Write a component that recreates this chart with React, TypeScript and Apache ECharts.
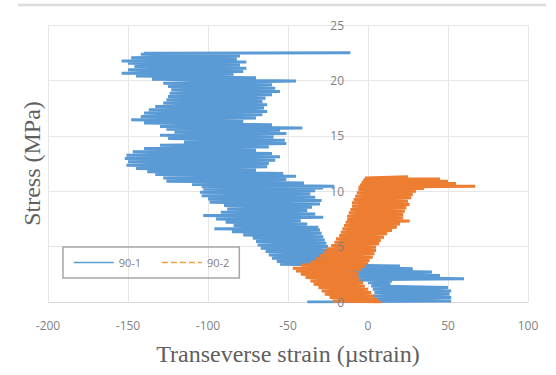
import React, { useEffect, useRef } from "react";
import * as echarts from "echarts";

const xTicks = [-200, -150, -100, -50, 0, 50, 100];
const yTicks = [0, 5, 10, 15, 20, 25];
const seriesNames = ["90-1", "90-2"];

// [transverse strain (µstrain), stress (MPa)]
const series901: [number, number][] = [
  [-38, 0.0], [-20, 0.02], [0, 0.05], [52, 0.1], [2, 0.25], [52, 0.4], [3, 0.55], [51, 0.7],
  [4, 0.85], [52, 1.0], [3, 1.15], [50, 1.3], [2, 1.45], [14, 1.6], [0, 1.75], [15, 1.9],
  [-8, 2.0], [60, 2.1], [-10, 2.25], [45, 2.4], [-12, 2.55], [40, 2.7], [-14, 2.85], [28, 3.0],
  [-15, 3.15], [20, 3.25], [-55, 3.4], [-16, 3.5], [-57, 3.65], [-18, 3.8], [-60, 3.95], [-20, 4.1],
  [-62, 4.25], [-22, 4.4], [-64, 4.55], [-24, 4.7], [-67, 4.85], [-25, 5.0], [-69, 5.15], [-26, 5.3],
  [-70, 5.45], [-27, 5.6], [-72, 5.75], [-28, 5.9], [-78, 6.05], [-29, 6.2], [-85, 6.35], [-30, 6.5],
  [-96, 6.6], [-31, 6.75], [-84, 6.9], [-38, 7.05], [-89, 7.2], [-42, 7.35], [-95, 7.5], [-28, 7.65],
  [-103, 7.8], [-33, 7.95], [-92, 8.1], [-38, 8.25], [-88, 8.4], [-35, 8.55], [-90, 8.7], [-30, 8.85],
  [-99, 9.0], [-29, 9.15], [-100, 9.3], [-33, 9.45], [-104, 9.6], [-36, 9.75], [-105, 9.9], [-33, 10.05],
  [-103, 10.2], [-28, 10.3], [-104, 10.4], [-21, 10.45], [-110, 10.6], [-40, 10.75], [-126, 10.9], [-51, 11.05],
  [-128, 11.2], [-45, 11.35], [-133, 11.5], [-53, 11.6], [-138, 11.75], [-70, 11.9], [-145, 12.05], [-63, 12.2],
  [-151, 12.35], [-62, 12.5], [-150, 12.65], [-58, 12.8], [-152, 12.95], [-55, 13.1], [-151, 13.25], [-60, 13.4],
  [-147, 13.55], [-70, 13.7], [-140, 13.85], [-62, 14.0], [-130, 14.15], [-51, 14.3], [-115, 14.45], [-52, 14.6],
  [-125, 14.75], [-59, 14.9], [-130, 15.05], [-51, 15.2], [-121, 15.35], [-55, 15.5], [-126, 15.6], [-41, 15.7],
  [-130, 15.85], [-60, 16.0], [-140, 16.15], [-78, 16.3], [-148, 16.45], [-70, 16.6], [-142, 16.75], [-66, 16.9],
  [-140, 17.05], [-63, 17.2], [-137, 17.35], [-65, 17.5], [-133, 17.65], [-63, 17.8], [-128, 17.95], [-66, 18.1],
  [-126, 18.25], [-64, 18.4], [-125, 18.55], [-60, 18.7], [-124, 18.85], [-55, 19.0], [-123, 19.15], [-58, 19.3],
  [-125, 19.45], [-60, 19.6], [-128, 19.75], [-45, 19.95], [-135, 20.1], [-70, 20.25], [-145, 20.4], [-84, 20.55],
  [-154, 20.65], [-78, 20.8], [-150, 20.95], [-76, 21.1], [-146, 21.25], [-80, 21.4], [-150, 21.55], [-76, 21.65],
  [-154, 21.75], [-82, 21.9], [-148, 22.05], [-80, 22.2], [-142, 22.35], [-90, 22.4], [-140, 22.45], [-11, 22.5],
];

const series902: [number, number][] = [
  [8, 0.0], [-22, 0.1], [6, 0.25], [-24, 0.4], [4, 0.55], [-27, 0.7], [2, 0.85], [-29, 1.0],
  [0, 1.15], [-31, 1.3], [-2, 1.45], [-34, 1.6], [-3, 1.75], [-36, 1.9], [-5, 2.05], [-39, 2.2],
  [-6, 2.35], [-42, 2.5], [-6, 2.65], [-45, 2.8], [-4, 2.95], [-47, 3.05], [-2, 3.2], [-42, 3.35],
  [0, 3.5], [-36, 3.6], [1, 3.75], [-33, 3.9], [3, 4.05], [-30, 4.2], [4, 4.35], [-28, 4.5],
  [5, 4.65], [-26, 4.8], [5, 4.95], [-23, 5.1], [7, 5.25], [-21, 5.4], [8, 5.55], [-20, 5.7],
  [10, 5.85], [-18, 6.0], [12, 6.15], [-17, 6.3], [15, 6.45], [-16, 6.6], [18, 6.75], [-15, 6.9],
  [20, 7.05], [-14, 7.2], [26, 7.3], [-13, 7.45], [22, 7.6], [-13, 7.75], [22, 7.9], [-12, 8.05],
  [23, 8.2], [-11, 8.35], [24, 8.5], [-10, 8.65], [26, 8.8], [-10, 8.95], [25, 9.1], [-9, 9.25],
  [27, 9.4], [-8, 9.55], [28, 9.7], [-7, 9.85], [30, 10.0], [-6, 10.15], [35, 10.25], [-6, 10.35],
  [67, 10.45], [-5, 10.55], [55, 10.7], [-4, 10.8], [50, 10.9], [-3, 11.0], [45, 11.1], [-2, 11.2],
  [25, 11.3],
];

const TICK_FONT = "'Open Sans', 'Liberation Sans', sans-serif";
const TITLE_FONT = "'Liberation Serif', 'DejaVu Serif', serif";

export default function App() {
  const ref = useRef<HTMLDivElement>(null);
  useEffect(() => {
    if (!ref.current) return;
    const chart = echarts.init(ref.current, undefined, { renderer: "svg" });
    const yMin = yTicks[0];
    const yMax = yTicks[yTicks.length - 1];
    chart.setOption({
      animation: false,
      backgroundColor: "#ffffff",
      grid: { left: 48, right: 28, top: 25, bottom: 73, containLabel: false, outerBoundsMode: "none" },
      xAxis: {
        type: "value",
        position: "bottom",
        min: xTicks[0],
        max: xTicks[xTicks.length - 1],
        interval: 50,
        name: "Transeverse strain (µstrain)",
        nameLocation: "middle",
        nameGap: 40,
        nameTextStyle: { fontFamily: TITLE_FONT, fontSize: 24, color: "#5f5f5f" },
        axisLine: { show: true, onZero: false, lineStyle: { color: "#d9d9d9", width: 1 } },
        axisTick: { show: false },
        axisLabel: { margin: 17, fontFamily: TICK_FONT, fontSize: 12, color: "#7f7f7f" },
        splitLine: { show: true, lineStyle: { color: "#e6e6e6", width: 1 } },
      },
      yAxis: [
        {
          type: "value",
          position: "left",
          min: yMin,
          max: yMax,
          interval: 5,
          axisLine: { show: false, onZero: false },
          axisTick: { show: false },
          axisLabel: { show: false },
          splitLine: { show: true, lineStyle: { color: "#e6e6e6", width: 1 } },
        },
        {
          type: "value",
          position: "left",
          offset: -320,
          z: 10,
          min: yMin,
          max: yMax,
          interval: 5,
          name: "Stress (MPa)",
          nameLocation: "middle",
          nameRotate: 90,
          nameGap: 324,
          nameTextStyle: { fontFamily: TITLE_FONT, fontSize: 24, color: "#5f5f5f" },
          axisLine: { show: false, onZero: false },
          axisTick: { show: false },
          axisLabel: { margin: 24, fontFamily: TICK_FONT, fontSize: 12, color: "#7f7f7f" },
          splitLine: { show: false },
        },
      ],
      legend: {
        left: 63,
        top: 247,
        orient: "horizontal",
        padding: [10, 10],
        itemWidth: 40,
        itemHeight: 10,
        itemGap: 20,
        borderColor: "#a6a6a6",
        borderWidth: 1.5,
        itemStyle: { opacity: 0 },
        lineStyle: { width: 1.5 },
        textStyle: { fontFamily: TICK_FONT, fontSize: 11, color: "#7f7f7f" },
        data: [
          { name: seriesNames[0], itemStyle: { opacity: 0 } },
          { name: seriesNames[1], itemStyle: { opacity: 0 }, lineStyle: { type: "dashed", color: "#f0a040", width: 1.5 } },
        ],
      },
      graphic: [
        {
          type: "line",
          shape: { x1: 18, y1: 5, x2: 546, y2: 5 },
          style: { stroke: "#dcdcdc", lineWidth: 2.5 },
          silent: true,
        },
      ],
      series: [
        {
          name: seriesNames[0],
          type: "line",
          yAxisIndex: 0,
          data: series901,
          symbol: "none",
          showSymbol: false,
          lineStyle: { color: "#5B9BD5", width: 3 },
          itemStyle: { color: "#5B9BD5" },
          z: 2,
        },
        {
          name: seriesNames[1],
          type: "line",
          yAxisIndex: 0,
          data: series902,
          symbol: "none",
          showSymbol: false,
          lineStyle: { color: "#ED7D31", width: 3 },
          itemStyle: { color: "#ED7D31" },
          z: 3,
        },
      ],
    });
    return () => chart.dispose();
  }, []);
  return (
    <div
      ref={ref}
      style={{ position: "fixed", left: 0, top: 0, width: 556, height: 375, background: "#fff" }}
    />
  );
}
